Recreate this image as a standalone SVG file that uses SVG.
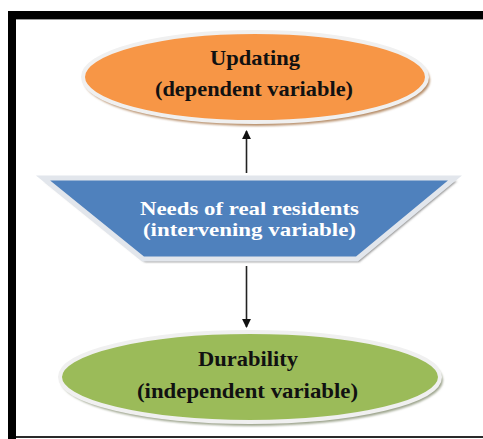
<svg xmlns="http://www.w3.org/2000/svg" width="483" height="439" viewBox="0 0 483 439">
  <style>
    .lbl { font-family: "Liberation Serif", "Times New Roman", serif; font-weight: bold; font-size: 21px; text-anchor: middle; }
    .dark { fill: #111111; }
    .light { fill: #ffffff; font-size: 19.5px; }
    .rim { stroke: #f0f0f0; stroke-width: 4; }
    .conn { stroke: #222222; stroke-width: 1.6; fill: none; }
  </style>
  <defs>
    <marker id="head" viewBox="0 0 10 10" refX="9" refY="5" markerWidth="9" markerHeight="9" markerUnits="userSpaceOnUse" orient="auto">
      <path d="M0,0 L10,5 L0,10 Z" fill="#111111"/>
    </marker>
    <filter id="soft" x="-10%" y="-10%" width="120%" height="130%">
      <feGaussianBlur stdDeviation="1"/>
    </filter>
  </defs>

  <rect x="0" y="0" width="483" height="439" fill="#ffffff"/>

  <!-- frame -->
  <g id="frame">
    <rect x="8" y="11" width="475" height="8" fill="#000000"/>
    <rect x="8" y="19" width="475" height="1" fill="#9a9a9a"/>
    <rect x="8" y="11" width="8" height="428" fill="#000000"/>
    <rect x="16" y="436" width="467" height="2" fill="#2a2a2a"/>
  </g>

  <!-- connectors -->
  <g id="connectors">
    <line class="conn" x1="246.5" y1="173" x2="246.5" y2="131" marker-end="url(#head)"/>
    <line class="conn" x1="246.5" y1="266" x2="246.5" y2="327" marker-end="url(#head)"/>
  </g>

  <!-- dependent variable -->
  <g id="node-updating">
    <ellipse cx="257" cy="80" rx="173" ry="46" fill="#b8906c" filter="url(#soft)"/>
    <ellipse class="rim" cx="255" cy="77" rx="172" ry="45" fill="#f79646"/>
    <text class="lbl dark" x="255" y="65" textLength="90" lengthAdjust="spacingAndGlyphs">Updating</text>
    <text class="lbl dark" x="254" y="96" textLength="198" lengthAdjust="spacingAndGlyphs">(dependent variable)</text>
  </g>

  <!-- intervening variable -->
  <g id="node-needs">
    <polygon points="45,181 457,181 359,262 145,262" fill="#8c8c8c" filter="url(#soft)"/>
    <polygon points="43,178 455,178 357,259 143,259" fill="#4f81bd" stroke="#e2e6ec" stroke-width="5" stroke-linejoin="miter"/>
    <text class="lbl light" x="249.5" y="215" textLength="219" lengthAdjust="spacingAndGlyphs">Needs of real residents</text>
    <text class="lbl light" x="249.5" y="236" textLength="213" lengthAdjust="spacingAndGlyphs">(intervening variable)</text>
  </g>

  <!-- independent variable -->
  <g id="node-durability">
    <ellipse cx="252" cy="380" rx="191" ry="46" fill="#9ea58e" filter="url(#soft)"/>
    <ellipse class="rim" cx="250" cy="377" rx="190" ry="45" fill="#9bbb59"/>
    <text class="lbl dark" x="248" y="366" textLength="100" lengthAdjust="spacingAndGlyphs">Durability</text>
    <text class="lbl dark" x="247.5" y="398" textLength="221" lengthAdjust="spacingAndGlyphs">(independent variable)</text>
  </g>
</svg>
